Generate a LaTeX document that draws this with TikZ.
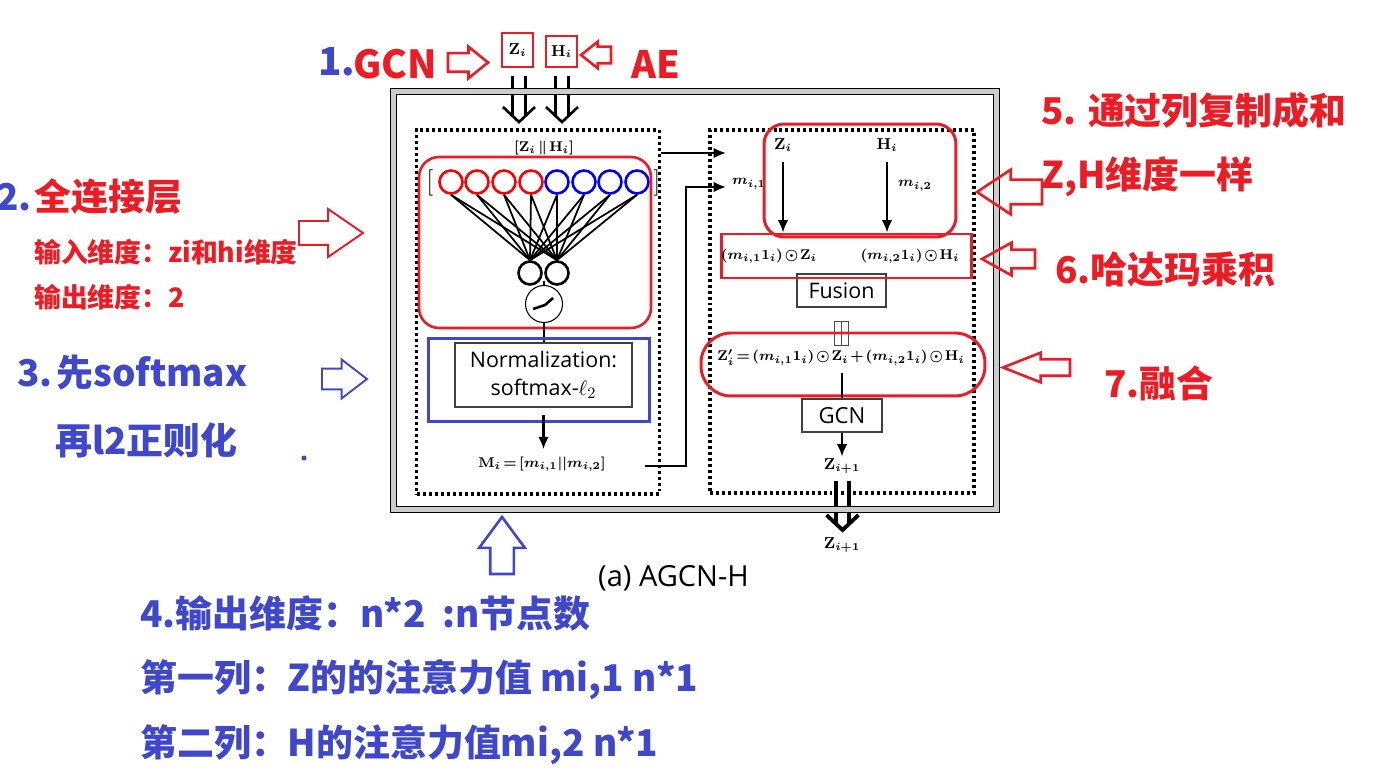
\documentclass[tikz,border=0pt]{standalone}
\usepackage{amsmath,amssymb}
\usepackage{fontspec}
\newfontfamily\cjkfont{Noto Sans CJK SC}
\newfontfamily\uifont{Open Sans}
\usepackage{tikz}
\usetikzlibrary{shapes,shapes.arrows,arrows.meta,positioning}
\definecolor{markred}{RGB}{237,28,36}
\definecolor{markblue}{RGB}{63,72,204}
\thickmuskip=2.5mu\relax
\medmuskip=2mu\relax
\tikzset{
    redtext/.style={text=markred, inner sep=0pt, anchor=west, font=\cjkfont\bfseries\fontsize{21}{24}\selectfont},
    bluetext/.style={text=markblue, inner sep=0pt, anchor=west, font=\cjkfont\bfseries\fontsize{21}{24}\selectfont},
    redsmall/.style={redtext, font=\cjkfont\bfseries\fontsize{15.25}{18}\selectfont},
    formula/.style={inner sep=1pt, font=\boldmath\fontsize{9}{11}\selectfont},
    tightformula/.style={inner sep=1pt, font=\boldmath\fontsize{#1}{11}\selectfont},
    uibox/.style={draw=black!75, line width=0.7pt, inner sep=0pt, align=center, font=\uifont\fontsize{12.2}{15.5}\selectfont},
    panel/.style={draw, line width=1.8pt, dash pattern=on 1.7pt off 1.7pt},
    redbox/.style={draw=markred, line width=1.7pt},
    hollow/.style={single arrow, draw, inner sep=0pt, outer sep=0pt, anchor=tip, text depth=0pt, line width=1.5pt},
    flow/.style={-{Latex[length=7pt,width=6pt]}, line width=1.2pt},
    bigflow/.style={double, double distance=5.8pt, line width=1.5pt},
    wire/.style={line width=1.4pt}
}
\begin{document}
\begin{tikzpicture}[x=0.02cm, y=-0.02cm]
    \useasboundingbox (0,0) rectangle (1400,780);
    % inputs on top
    \node[draw=markred, line width=0.7pt, minimum width=0.62cm, minimum height=0.68cm, formula] (zin) at (517.5,50) {$\mathbf{Z}_i$};
    \node[draw=markred, line width=0.7pt, minimum width=0.62cm, minimum height=0.62cm, formula] (hin) at (561.5,51.5) {$\mathbf{H}_i$};
    \coordinate (ztip) at (519,122);
    \coordinate (htip) at (562,122);
    \foreach \a/\b in {zin/ztip, hin/htip} {
        \draw[bigflow, shorten <=4.5pt, shorten >=3.1pt] (\b |- \a.south) -- (\b);
        \draw[line width=1.5pt] (\b) ++(-16,-15) -- (\b) -- ++(16,-15);
    }
    % output arrow at the bottom
    \node[formula] (zlast) at (842,545) {$\mathbf{Z}_{i+1}$};
    \node[formula] (zout) at (842,466) {$\mathbf{Z}_{i+1}$};
    \coordinate (ltip) at (842.5,530);
    \draw[bigflow, line width=2.2pt, double distance=5pt, shorten <=3pt, shorten >=3.1pt] (ltip |- zout.south) -- (ltip);
    \draw[line width=2.2pt] (ltip) ++(-16,-15) -- (ltip) -- ++(16,-15);

    % outer frame and the two dotted panels
    \node[draw, line width=0.6pt, double=gray!40, double distance=2.4pt, minimum width=12.06cm, minimum height=8.36cm] (frame) at (695,300.5) {};
    \node[panel, minimum width=4.85cm, minimum height=7.28cm] (left) at (538,312) {};
    \node[panel, minimum width=5.28cm, minimum height=7.26cm] (right) at (842,311.5) {};

    % left panel
    \node[tightformula=8.2] (cat) at (544,148) {$[\mathbf{Z}_i \parallel \mathbf{H}_i]$};
    \node[inner sep=0pt, font=\fontsize{15}{16}\selectfont] (open) at (430,183) {[};
    \node[inner sep=0pt, font=\fontsize{15}{16}\selectfont] (close) at (657,183) {]};
    \foreach \i/\x/\c in {1/451/red, 2/477/red, 3/504/red, 4/531/red, 5/557/blue, 6/584/blue, 7/610/blue, 8/637/blue}
        \node[circle, draw=\c, line width=1.5pt, minimum size=0.46cm, inner sep=0pt] (in\i) at (\x,182) {};
    \node[circle, draw, line width=1.5pt, minimum size=0.46cm, inner sep=0pt] (out1) at (530,273) {};
    \node[circle, draw, line width=1.5pt, minimum size=0.46cm, inner sep=0pt] (out2) at (557,273) {};
    \foreach \i in {1,...,8}
        \foreach \j in {1,2}
            \draw[line width=1pt] (in\i.south) -- (out\j.north);
    \node[circle, draw, line width=0.6pt, minimum size=0.74cm, inner sep=0pt] (act) at (544,304) {};
    \draw[line width=1.5pt] (533,309) -- (545,305) -- (553,298);
    \draw[wire] (act.north) -- ++(0,-4);
    \node[draw=markred, line width=1.5pt, rounded corners=0.4cm, minimum width=4.64cm, minimum height=3.42cm] (fc) at (535,242.5) {};
    \node[uibox, minimum width=3.54cm, minimum height=1.28cm] (norm) at (543.5,375) {Normalization:\\softmax-$\ell_2$};
    \draw[wire] (act.south) -- (act.south |- norm.north);
    \node[draw=markblue, line width=1.7pt, minimum width=4.44cm, minimum height=1.68cm] (softbox) at (539,380) {};
    \node[tightformula=8.2] (mi) at (542,464) {$\mathbf{M}_i = [m_{i,1}||m_{i,2}]$};
    \draw[flow, shorten <=4pt, shorten >=3pt] (norm.south) -- (norm.south |- mi.north);

    % links between the panels
    \coordinate (mout) at (645,466);
    \coordinate (mtip) at (726,187);
    \coordinate (cout) at (661,153);
    \coordinate (ctip) at (726,153);
    \draw[flow] (cout) -- (ctip);
    \draw[flow] (mout) -- ++(41,0) |- (mtip);

    % right panel
    \node[formula] (zi) at (783,145) {$\mathbf{Z}_i$};
    \node[formula] (hi) at (887,145) {$\mathbf{H}_i$};
    \node[tightformula=8] (m1) at (749,184) {$m_{i,1}$};
    \node[tightformula=8] (m2) at (915,186) {$m_{i,2}$};
    \node[redbox, line width=1.7pt, rounded corners=0.4cm, minimum width=3.84cm, minimum height=2.26cm] (dup) at (860,180.5) {};
    \node[uibox, minimum width=1.78cm, minimum height=0.66cm] (fusion) at (841.5,290.5) {Fusion};
    \node[redbox, minimum width=5.02cm, minimum height=0.88cm] (prod) at (846.5,256) {};
    \node[tightformula=8.2] (pz) at (769,256) {$(m_{i,1}\mathbf{1}_i) \odot \mathbf{Z}_i$};
    \node[tightformula=8.2] (ph) at (910,256) {$(m_{i,2}\mathbf{1}_i) \odot \mathbf{H}_i$};
    \draw[flow, shorten <=5pt] (zi.south) -- (zi.south |- prod.north);
    \draw[flow, shorten <=5pt] (hi.south) -- (hi.south |- prod.north);
    \node[draw=black!70, line width=0.5pt, minimum width=0.14cm, minimum height=0.48cm, inner sep=0pt] (eqa) at (837.5,333) {};
    \node[draw=black!70, line width=0.5pt, minimum width=0.14cm, minimum height=0.48cm, inner sep=0pt] (eqb) at (844.5,333) {};
    \node[tightformula=8.2] (eq) at (841,358) {$\mathbf{Z}_i' = (m_{i,1}\mathbf{1}_i) \odot \mathbf{Z}_i + (m_{i,2}\mathbf{1}_i) \odot \mathbf{H}_i$};
    \node[redbox, rounded corners=0.6cm, minimum width=5.68cm, minimum height=1.26cm] (fuse) at (843,364.5) {};
    \node[uibox, minimum width=1.6cm, minimum height=0.66cm, font=\uifont\fontsize{12.6}{15}\selectfont] (gcn) at (842,415.5) {GCN};
    \draw[wire, shorten <=3pt] (eq.south -| gcn.north) -- (gcn.north);
    \draw[flow] (gcn.south) -- (zout.north);

    % caption
    \node[inner sep=0pt, font=\uifont\fontsize{16.5}{18}\selectfont] (caption) at (673.5,578) {(a) AGCN-H};

    % hollow marker arrows
    \node[hollow, draw=markred, rotate=0, text height=0.32cm, minimum height=0.8cm, single arrow head extend=0.13cm, single arrow tip angle=78] (m1a) at (488,62.5) {};
    \node[hollow, draw=markred, rotate=180, text height=0.28cm, minimum height=0.6cm, single arrow head extend=0.1cm, single arrow tip angle=77] (m1b) at (581,55) {};
    \node[hollow, draw=markred, rotate=0, line width=1.1pt, text height=0.44cm, minimum height=1.28cm, single arrow head extend=0.24cm, single arrow tip angle=69] (m2a) at (363,233) {};
    \node[hollow, draw=markblue, rotate=0, line width=1.1pt, text height=0.38cm, minimum height=0.9cm, single arrow head extend=0.18cm, single arrow tip angle=75] (m3a) at (367,379) {};
    \node[hollow, draw=markblue, rotate=90, text height=0.42cm, minimum height=1.14cm, single arrow head extend=0.22cm, single arrow tip angle=73] (m4a) at (502,517) {};
    \node[hollow, draw=markred, rotate=180, text height=0.44cm, minimum height=1.3cm, single arrow head extend=0.2cm, single arrow tip angle=67] (m5a) at (977,192) {};
    \node[hollow, draw=markred, rotate=180, text height=0.32cm, minimum height=1.06cm, single arrow head extend=0.14cm, single arrow tip angle=58] (m6a) at (982,259) {};
    \node[hollow, draw=markred, rotate=180, text height=0.28cm, minimum height=1.34cm, single arrow head extend=0.13cm, single arrow tip angle=43] (m7a) at (1003,367.5) {};

    % annotations
    \node[bluetext, font=\cjkfont\bfseries\fontsize{22}{24}\selectfont] (n1) at (318,62) {1.};
    \node[redtext, font=\cjkfont\bfseries\fontsize{22}{24}\selectfont] (gcnnote) at (353,64) {GCN};
    \node[redtext, font=\cjkfont\bfseries\fontsize{21.5}{24}\selectfont] (aenote) at (631,64) {AE};
    \node[bluetext] (n2) at (-4,197) {2.};
    \node[redtext] (fcnote) at (34,197) {全连接层};
    \node[redsmall] (fcin) at (34,252) {输入维度：zi和hi维度};
    \node[redsmall] (fcout) at (34,297) {输出维度：2};
    \node[bluetext] (softnote) at (17,373) {3.\kern.1em 先softmax};
    \node[bluetext] (l2note) at (55,440) {再l2正则化};
    \node[circle, fill=markblue, inner sep=0pt, minimum size=0.1cm] (dot) at (304,458) {};
    \node[bluetext] (dimnote) at (140,613) {4.输出维度：n*2 \ :n节点数};
    \node[bluetext] (colone) at (140,680) {第一列：Z的的注意力值 mi,1 n*1};
    \node[bluetext] (coltwo) at (140,745) {第二列：H的注意力值mi,2 n*1};
    \node[redtext] (dupnote) at (1041,110) {5. 通过列复制成和};
    \node[redtext] (dimsame) at (1041,177) {Z,H维度一样};
    \node[redtext] (hadamard) at (1055,270) {6.哈达玛乘积};
    \node[redtext] (fusenote) at (1104,383) {7.融合};
\end{tikzpicture}
\end{document}
